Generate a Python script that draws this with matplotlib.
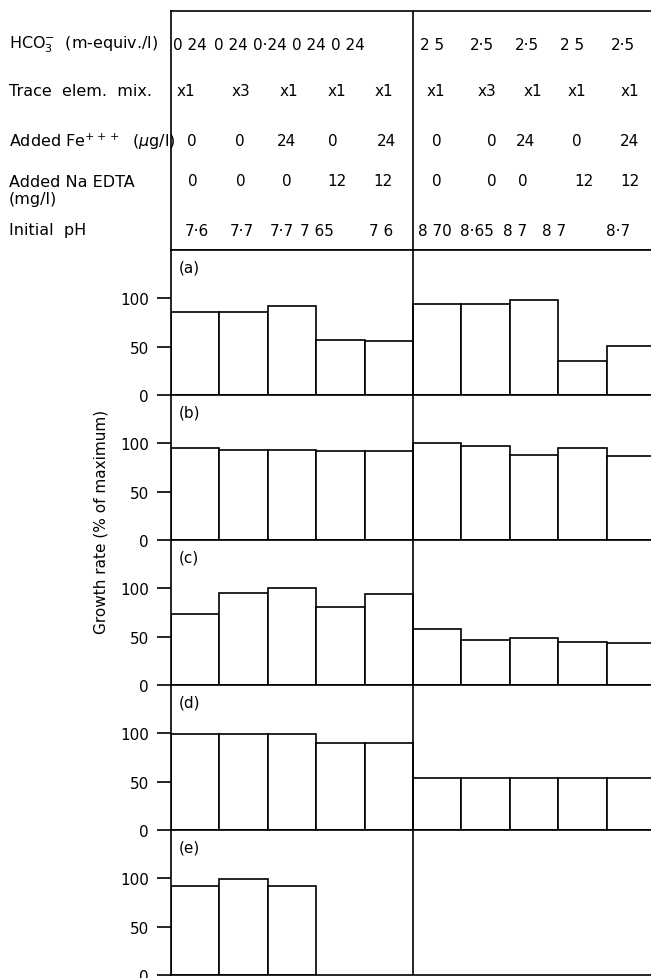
import matplotlib
matplotlib.use('Agg')
import numpy as np
import matplotlib.pyplot as plt

# --- данные ---
hco3 = ['0 24', '0 24', '0·24', '0 24', '0 24', '2 5', '2·5', '2·5', '2 5', '2·5']
trace = ['x1', 'x3', 'x1', 'x1', 'x1', 'x1', 'x3', 'x1', 'x1', 'x1']
fe_added = ['0', '0', '24', '0', '24', '0', '0', '24', '0', '24']
edta_added = ['0', '0', '0', '12', '12', '0', '0', '0', '12', '12']
initial_ph = ['7·6', '7·7', '7·7', '7 65', '7 6', '8 70', '8·65', '8 7', '8 7', '8·7']

panel_labels = ['(a)', '(b)', '(c)', '(d)', '(e)']
growth_a = [86, 86, 92, 57, 56, 94, 94, 98, 35, 51]
growth_b = [95, 93.5, 93, 92.5, 92, 100, 97, 88, 95, 87]
growth_c = [73, 95, 100, 81, 94, 58, 47, 49, 44, 43]
growth_d = [99, 99, 99, 90, 90, 54, 54, 54, 54, 54]
growth_e = [92, 99.5, 92.5]
panels = [growth_a, growth_b, growth_c, growth_d, growth_e]

row_names = [r'HCO$_3^{-}$  (m-equiv./l)', 'Trace  elem.  mix.',
             r'Added Fe$^{+++}$  ($\mu$g/l)', 'Added Na EDTA\n(mg/l)', 'Initial  pH']
row_values = [hco3, trace, fe_added, edta_added, initial_ph]

# --- разметка (пиксели картинки) ---
W, H = 651, 979
LEFT, RIGHT = 171, 655
TOP, HEAD_BOT = 12, 251
PANEL_H = 145
COL_W = (RIGHT - LEFT) / 10

row_y = [45, 91, 142, 182, 231]
row_label_y = [45, 91, 142, 191, 231]
# положения текста в ячейках (px), как на оригинале
cell_x = [
    [190, 231, 270, 309, 348, 432, 482, 527, 572, 623],
    [186, 241, 289, 337, 384, 436, 487, 533, 577, 630],
    [192, 240, 286, 333, 387, 437, 492, 525, 577, 629],
    [193, 241, 287, 337, 383, 437, 492, 523, 584, 630],
    [197, 242, 282, 317, 381, 435, 477, 515, 554, 618],
]

LW = 1.2
FS = 11

plt.rcParams['font.family'] = 'DejaVu Sans'

fig = plt.figure(figsize=(W / 100, H / 100), dpi=100)


def fx(px):
    return px / W


def fy(py):
    return 1 - py / H


# шапка-таблица
hax = fig.add_axes([fx(LEFT), fy(HEAD_BOT), (RIGHT - LEFT) / W, (HEAD_BOT - TOP) / H])
hax.set_xlim(0, 10)
hax.set_ylim(HEAD_BOT, TOP)
hax.set_xticks([])
hax.set_yticks([])
for s in hax.spines.values():
    s.set_linewidth(LW)
hax.spines['right'].set_visible(False)
hax.axvline(5, color='black', lw=LW)

for name, ly, vals, y, xs in zip(row_names, row_label_y, row_values, row_y, cell_x):
    fig.text(fx(9), fy(ly), name, fontsize=11.5, va='center', ha='left', linespacing=1.1)
    for v, px in zip(vals, xs):
        hax.text((px - LEFT) / COL_W, y, v, fontsize=FS, ha='center', va='center')

# панели с гистограммами
for i, (vals, lab) in enumerate(zip(panels, panel_labels)):
    bottom_px = HEAD_BOT + PANEL_H * (i + 1)
    ax = fig.add_axes([fx(LEFT), fy(bottom_px), (RIGHT - LEFT) / W, PANEL_H / H])
    x = np.arange(len(vals)) + 0.5
    ax.bar(x, vals, width=1.0, color='white', edgecolor='black', linewidth=LW)
    ax.set_xlim(0, 10)
    ax.set_ylim(0, 150)
    ax.set_xticks([])
    ax.set_yticks([0, 50, 100])
    ax.set_yticklabels(['0', '50', '100'], fontsize=FS)
    ax.tick_params(axis='y', direction='out', length=10, width=LW, pad=6)
    for s in ax.spines.values():
        s.set_linewidth(LW)
    ax.spines['right'].set_visible(False)
    ax.axvline(5, color='black', lw=LW)
    ax.text(0.15, 132, lab, fontsize=FS, ha='left', va='center')

fig.text(fx(101), fy(522), 'Growth rate (% of maximum)', rotation=90,
         fontsize=FS, ha='center', va='center')

plt.savefig('out.png', dpi=100)
plt.close()
